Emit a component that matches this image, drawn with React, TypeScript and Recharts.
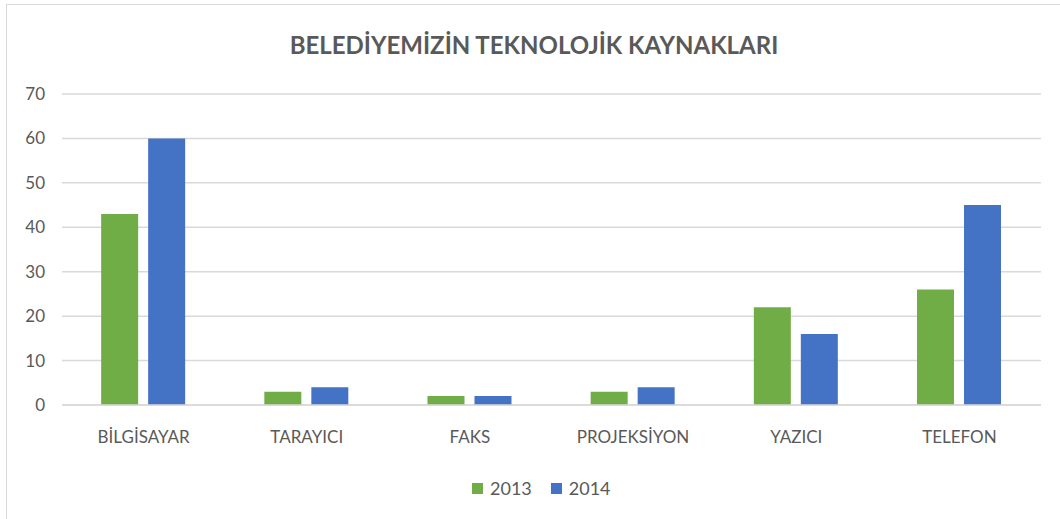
import { BarChart, Bar, XAxis, YAxis, CartesianGrid, Legend } from "recharts";

const categories = ["BİLGİSAYAR", "TARAYICI", "FAKS", "PROJEKSİYON", "YAZICI", "TELEFON"];
const values2013 = [43, 3, 2, 3, 22, 26];
const values2014 = [60, 4, 2, 4, 16, 45];
const yTicks = [0, 10, 20, 30, 40, 50, 60, 70];
const seriesColors = { "2013": "#70ad47", "2014": "#4472c4" };

const data = categories.map((name, i) => ({
  name,
  "2013": values2013[i],
  "2014": values2014[i],
}));

const font = "Lato, 'Open Sans', sans-serif";

function LegendBox({ payload }: any) {
  return (
    <div style={{ display: "flex", alignItems: "center", fontSize: 18, color: "#595959", fontFamily: font }}>
      {(payload || []).map((p: any) => (
        <div key={p.value} style={{ display: "flex", alignItems: "center", marginRight: 19 }}>
          <span style={{ width: 11, height: 11, background: p.color, display: "inline-block", marginRight: 7 }} />
          <span>{p.value}</span>
        </div>
      ))}
    </div>
  );
}

export default function App() {
  return (
    <div
      style={{
        position: "absolute",
        left: 0,
        top: 0,
        width: 1060,
        height: 519,
        background: "#fff",
        fontFamily: font,
        overflow: "hidden",
      }}
    >
      <div
        style={{
          position: "absolute",
          left: 6,
          top: 4,
          width: 1100,
          height: 600,
          borderLeft: "1px solid #d9d9d9",
          borderTop: "1px solid #d9d9d9",
        }}
      />
      <div
        style={{
          position: "absolute",
          top: 30,
          left: 4,
          width: "100%",
          textAlign: "center",
          fontSize: 24,
          fontWeight: 700,
          color: "#595959",
        }}
      >
        BELEDİYEMİZİN TEKNOLOJİK KAYNAKLARI
      </div>
      <BarChart
        width={1060}
        height={519}
        data={data}
        margin={{ top: 94, right: 19, bottom: 0, left: 0 }}
        barCategoryGap="24%"
        barGap={10}
        style={{ position: "absolute", left: 0, top: 0 }}
      >
        <CartesianGrid vertical={false} stroke="#d9d9d9" strokeWidth={1.5} />
        <XAxis
          dataKey="name"
          tickLine={false}
          axisLine={{ stroke: "#d9d9d9", strokeWidth: 1.5 }}
          tick={{ fill: "#595959", fontSize: 17, fontFamily: font }}
          tickMargin={20}
          height={92}
        />
        <YAxis
          ticks={yTicks}
          domain={[0, 70]}
          tickLine={false}
          axisLine={false}
          tickSize={0}
          tickMargin={17}
          width={62}
          tick={{ fill: "#595959", fontSize: 17, fontFamily: font }}
        />
        <Legend
          verticalAlign="bottom"
          align="left"
          content={<LegendBox />}
          wrapperStyle={{ left: 472, bottom: 20, width: 160, height: 22 }}
        />
        <Bar dataKey="2013" fill={seriesColors["2013"]} isAnimationActive={false} />
        <Bar dataKey="2014" fill={seriesColors["2014"]} isAnimationActive={false} />
      </BarChart>
    </div>
  );
}
